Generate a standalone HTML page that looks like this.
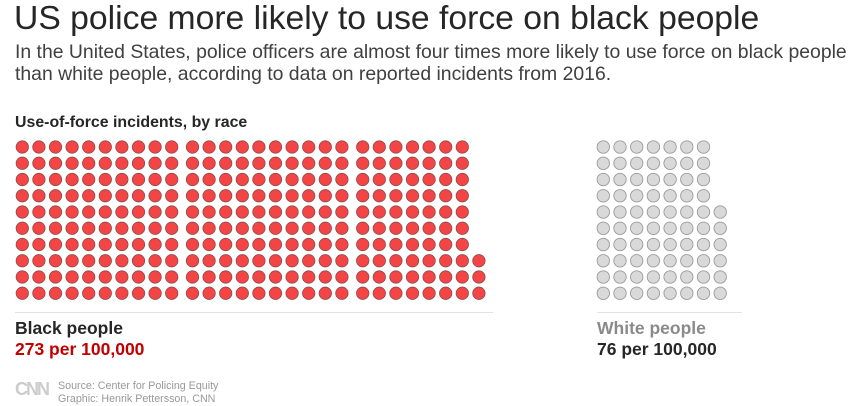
<!DOCTYPE html>
<html><head><style>
body{margin:0;width:857px;height:405px;background:#fff;font-family:"Liberation Sans",Arial,sans-serif;overflow:hidden;position:relative}
.t{position:absolute;white-space:nowrap}
</style></head><body>
<div class="t" style="left:14px;top:-1px;font-size:33.7px;color:#262626;">US police more likely to use force on black people</div>
<div class="t" style="left:15px;top:41px;font-size:19.4px;color:#404040;line-height:22px">In the United States, police officers are almost four times more likely to use force on black people<br>than white people, according to data on reported incidents from 2016.</div>
<div class="t" style="left:15px;top:114px;font-size:15.9px;font-weight:bold;color:#262626;">Use-of-force incidents, by race</div>
<svg width="857" height="405" style="position:absolute;left:0;top:0">
<g id="b" fill="#f44546" stroke="#8a4a4a" stroke-width="0.8"></g>
<g id="w" fill="#d9d9d9" stroke="#9a9a9a" stroke-width="0.9"></g>
<line x1="15" y1="312.5" x2="493" y2="312.5" stroke="#e3e3e3"/>
<line x1="597" y1="312.5" x2="742" y2="312.5" stroke="#e3e3e3"/>
</svg>
<div class="t" style="left:15px;top:318px;font-size:17.5px;font-weight:bold;color:#262626;">Black people</div>
<div class="t" style="left:15px;top:339px;font-size:17.5px;font-weight:bold;color:#c20000;">273 per 100,000</div>
<div class="t" style="left:597px;top:318px;font-size:17.5px;font-weight:bold;color:#8a8a8a;">White people</div>
<div class="t" style="left:597px;top:339px;font-size:17.5px;font-weight:bold;color:#262626;">76 per 100,000</div>
<div class="t" style="left:15px;top:379px;font-size:18px;font-weight:bold;color:#ccc;letter-spacing:-2px">CNN</div>
<div class="t" style="left:58px;top:380px;font-size:10.7px;color:#999;line-height:13px">Source: Center for Policing Equity<br>Graphic: Henrik Pettersson, CNN</div>
<script>
var ns="http://www.w3.org/2000/svg";
function dot(g,x,y){var c=document.createElementNS(ns,"circle");c.setAttribute("cx",x);c.setAttribute("cy",y);c.setAttribute("r",6.2);g.appendChild(c);}
var b=document.getElementById("b"),w=document.getElementById("w");
var SY=16.25,Y0=147;
for(var col=0;col<28;col++){
 var grp=Math.floor(col/10);
 var x=22.3+col*16.6+grp*4.2;
 var rows=Math.min(10,273-col*10);
 for(var r=0;r<rows;r++) dot(b,x,Y0+(10-rows+r)*SY);
}
for(var col=0;col<8;col++){
 var rows=Math.min(10,76-col*10);
 for(var r=0;r<rows;r++) dot(w,603.3+col*16.7,Y0+(10-rows+r)*SY);
}
</script>
</body></html>
